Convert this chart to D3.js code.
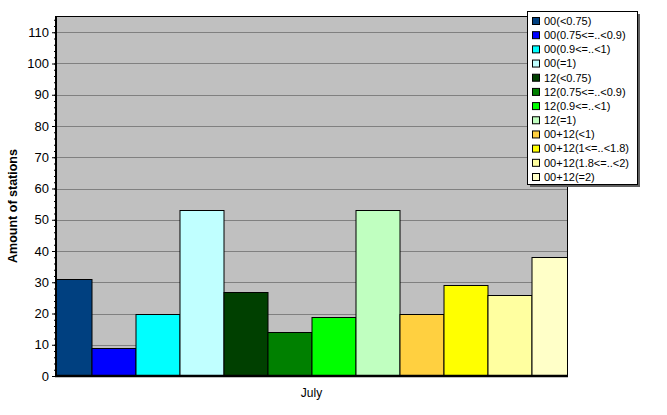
<!DOCTYPE html>
<html>
<head>
<meta charset="utf-8">
<script src="https://cdn.jsdelivr.net/npm/d3@7"></script>
<style>
  body { margin: 0; background: #fff; }
  svg { display: block; font-family: "Liberation Sans", Arial, sans-serif; }
</style>
</head>
<body>
<div id="chart"></div>
<script>
// data
const months = ["July"];
const series = [
  "00(<0.75)", "00(0.75<=..<0.9)", "00(0.9<=..<1)", "00(=1)",
  "12(<0.75)", "12(0.75<=..<0.9)", "12(0.9<=..<1)", "12(=1)",
  "00+12(<1)", "00+12(1<=..<1.8)", "00+12(1.8<=..<2)", "00+12(=2)"
];
const values = [31, 9, 20, 53, 27, 14, 19, 53, 20, 29, 26, 38];
const colors = [
  "#004080", "#0000ff", "#00ffff", "#c0ffff",
  "#004000", "#008000", "#00ff00", "#c0ffc0",
  "#ffd040", "#ffff00", "#ffffa0", "#ffffc8"
];
const yTicks = d3.range(0, 111, 10);
const yLabel = "Amount of stations";

const width = 667, height = 415;
const margin = { top: 16, right: 100, bottom: 39, left: 56 };
const plotW = width - margin.left - margin.right;
const plotH = height - margin.top - margin.bottom;
const groupWidth = 528;

const svg = d3.select("#chart")
  .append("svg")
  .attr("width", width)
  .attr("height", height);

const g = svg.append("g")
  .attr("transform", `translate(${margin.left},${margin.top})`);

// scales
const y = d3.scaleLinear().domain([0, 115.2]).range([plotH, 0]);
const x0 = d3.scaleBand().domain(months).range([0, plotW]);
const x1 = d3.scaleBand().domain(series);

svg.append("defs")
  .append("clipPath")
  .attr("id", "plot-clip")
  .append("rect")
  .attr("width", plotW)
  .attr("height", plotH);

// plot background
g.append("rect")
  .attr("width", plotW)
  .attr("height", plotH)
  .attr("fill", "#c0c0c0");

// gridlines
g.append("g")
  .selectAll("line")
  .data(yTicks.filter(d => d > 0))
  .enter()
  .append("line")
  .attr("x1", 0)
  .attr("x2", plotW)
  .attr("y1", d => Math.round(y(d)) + 0.5)
  .attr("y2", d => Math.round(y(d)) + 0.5)
  .attr("stroke", "#808080")
  .attr("stroke-width", 1);

// bars
const bars = g.append("g").attr("clip-path", "url(#plot-clip)");
months.forEach(m => {
  const cx = x0(m) + x0.bandwidth() / 2;
  x1.range([cx - groupWidth / 2, cx + groupWidth / 2]);
  bars.selectAll(null)
    .data(values)
    .enter()
    .append("rect")
    .attr("x", (d, i) => x1(series[i]) + 0.5)
    .attr("y", d => Math.round(y(d)) + 0.5)
    .attr("width", x1.bandwidth())
    .attr("height", d => plotH - Math.round(y(d)))
    .attr("fill", (d, i) => colors[i])
    .attr("stroke", "#000")
    .attr("stroke-width", 1);
});

// frame
g.append("line")
  .attr("x1", 0).attr("x2", plotW)
  .attr("y1", 0.5).attr("y2", 0.5)
  .attr("stroke", "#000");
g.append("line")
  .attr("x1", plotW + 0.5).attr("x2", plotW + 0.5)
  .attr("y1", 0).attr("y2", plotH)
  .attr("stroke", "#000");

// y axis
const yAxisMinor = d3.axisLeft(y)
  .tickValues(d3.range(0, 115, 2))
  .tickSize(2)
  .tickFormat("");
g.append("g")
  .call(yAxisMinor)
  .call(s => s.select(".domain").remove())
  .selectAll("line").attr("stroke", "#000");

const yAxis = d3.axisLeft(y)
  .tickValues(yTicks)
  .tickSize(4)
  .tickPadding(3);
g.append("g")
  .call(yAxis)
  .call(s => s.select(".domain").remove())
  .call(s => s.selectAll("line").attr("stroke", "#000"))
  .call(s => s.selectAll("text")
    .attr("font-size", 13)
    .attr("font-family", "Liberation Sans, Arial, sans-serif")
    .attr("fill", "#000"));

g.append("line")
  .attr("x1", 0).attr("x2", 0)
  .attr("y1", 0).attr("y2", plotH + 1)
  .attr("stroke", "#000")
  .attr("stroke-width", 2);

// x axis
g.append("line")
  .attr("x1", -1).attr("x2", plotW + 1)
  .attr("y1", plotH).attr("y2", plotH)
  .attr("stroke", "#000")
  .attr("stroke-width", 2.5);

const xAxis = d3.axisBottom(x0).tickSize(0).tickPadding(12);
g.append("g")
  .attr("transform", `translate(0,${plotH})`)
  .call(xAxis)
  .call(s => s.select(".domain").remove())
  .call(s => s.selectAll("text")
    .attr("font-size", 12)
    .attr("font-family", "Liberation Sans, Arial, sans-serif")
    .attr("fill", "#000"));

// y title
svg.append("text")
  .attr("transform", `translate(17,${margin.top + plotH / 2 + 10}) rotate(-90)`)
  .attr("text-anchor", "middle")
  .attr("font-size", 12.5)
  .attr("font-weight", "bold")
  .text(yLabel);

// legend
const legendX = 527, legendY = 11, legendW = 110, legendH = 173;
const legend = svg.append("g")
  .attr("transform", `translate(${legendX},${legendY})`);
legend.append("rect")
  .attr("x", 3).attr("y", 3)
  .attr("width", legendW).attr("height", legendH)
  .attr("fill", "#606060");
legend.append("rect")
  .attr("x", 0.5).attr("y", 0.5)
  .attr("width", legendW).attr("height", legendH)
  .attr("fill", "#fff")
  .attr("stroke", "#000");

const rowY = d3.scalePoint().domain(series).range([10, 166]);
const item = legend.selectAll("g.item")
  .data(series)
  .enter()
  .append("g")
  .attr("class", "item")
  .attr("transform", d => `translate(0,${rowY(d)})`);
item.append("rect")
  .attr("x", 5.5).attr("y", -3.5)
  .attr("width", 7).attr("height", 7)
  .attr("fill", (d, i) => colors[i])
  .attr("stroke", "#000");
item.append("text")
  .attr("x", 17)
  .attr("y", 0)
  .attr("dy", "0.35em")
  .attr("font-size", 11)
  .text(d => d);
</script>
</body>
</html>
